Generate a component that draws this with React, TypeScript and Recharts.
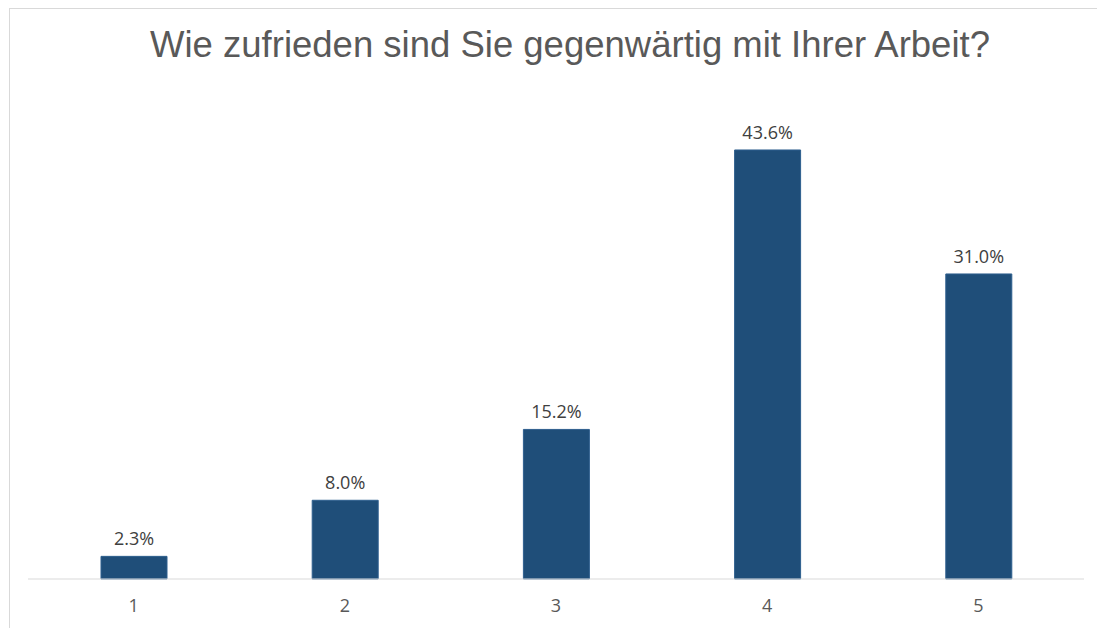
import React from 'react';
import { BarChart, Bar, XAxis, YAxis, LabelList } from 'recharts';

const categories = ['1', '2', '3', '4', '5'];
const shares = [2.3, 8.0, 15.2, 43.6, 31.0];

const data = categories.map((c, i) => ({ name: c, value: shares[i] }));

const TITLE = 'Wie zufrieden sind Sie gegenwärtig mit Ihrer Arbeit?';

export default function App() {
  return (
    <div style={{ position: 'absolute', left: 0, top: 0, width: 1097, height: 628, background: '#fff', overflow: 'hidden' }}>
      {/* chart area frame, cropped on the right and bottom */}
      <div
        style={{
          position: 'absolute',
          left: 9,
          top: 8,
          width: 1200,
          height: 700,
          border: '1px solid #D9D9D9',
          boxSizing: 'border-box',
        }}
      />
      <div
        style={{
          position: 'absolute',
          left: 0,
          top: 25,
          width: 1140,
          textAlign: 'center',
          fontFamily: '"Liberation Sans", Arial, sans-serif',
          fontSize: 36.5,
          color: '#595959',
          lineHeight: '40px',
          whiteSpace: 'nowrap',
        }}
      >
        {TITLE}
      </div>
      <div style={{ position: 'absolute', left: 0, top: 0 }}>
        <BarChart
          width={1097}
          height={628}
          data={data}
          margin={{ top: 87, right: 13, bottom: 19, left: 28 }}
          barSize={66}
        >
          <XAxis
            dataKey="name"
            height={30}
            axisLine={{ stroke: '#D9D9D9' }}
            tickLine={false}
            tick={{ fill: '#595959', fontSize: 18, fontFamily: '"Open Sans", sans-serif' }}
            tickMargin={14}
          />
          <YAxis hide domain={[0, 50]} />
          <Bar dataKey="value" fill="#1F4E79" stroke="#2E5F8E" strokeWidth={1} isAnimationActive={false}>
            <LabelList
              dataKey="value"
              position="top"
              offset={11}
              formatter={(v: number) => `${v.toFixed(1)}%`}
              style={{ fill: '#404040', fontSize: 18, fontFamily: '"Open Sans", sans-serif' }}
            />
          </Bar>
        </BarChart>
      </div>
    </div>
  );
}
